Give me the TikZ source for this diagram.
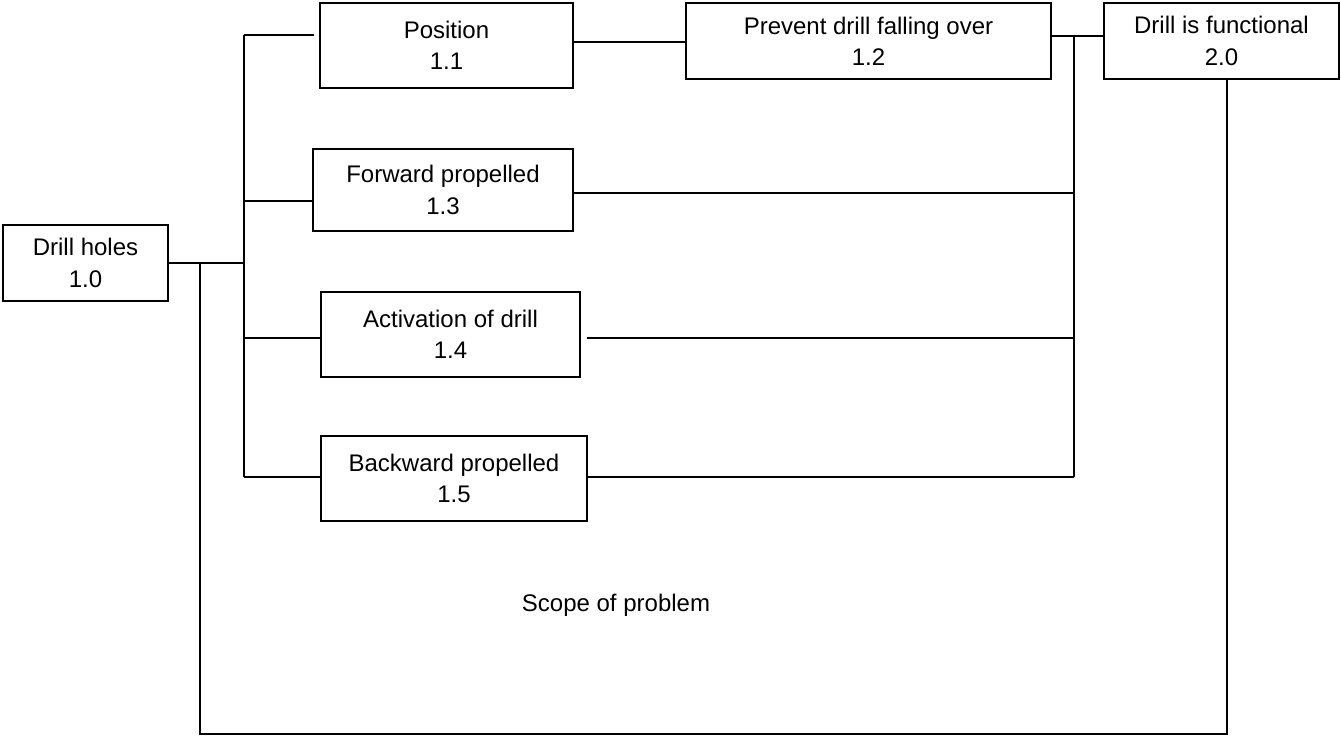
\documentclass[tikz,border=0pt]{standalone}
\usepackage{fontspec}
\setmainfont{Liberation Sans}
\usetikzlibrary{calc,positioning}

\begin{document}
\begin{tikzpicture}[x=0.75pt,y=-0.75pt,
  blockbox/.style={draw, line width=1.3pt, align=center, inner sep=0pt,
    font=\fontsize{18}{23.5}\selectfont},
  link/.style={line width=1.3pt}]
\useasboundingbox (0,0) rectangle (1341,736);

% boxes
\node[blockbox, minimum width=123.75pt, minimum height=57pt] (drill) at (85.5,263) {Drill holes\\1.0};
\node[blockbox, minimum width=189.75pt, minimum height=63.75pt] (pos) at (446.5,45.5) {Position\\1.1};
\node[blockbox, minimum width=273.75pt, minimum height=57pt] (prev) at (868.5,41) {Prevent drill falling over\\1.2};
\node[blockbox, minimum width=176.25pt, minimum height=57pt] (func) at (1221.5,41) {Drill is functional\\2.0};
\node[blockbox, minimum width=195pt, minimum height=61.5pt] (fwd) at (443,190) {Forward propelled\\1.3};
\node[blockbox, minimum width=194.25pt, minimum height=63.75pt] (act) at (450.5,334.5) {Activation of drill\\1.4};
\node[blockbox, minimum width=199.5pt, minimum height=63.75pt] (back) at (454,478.5) {Backward propelled\\1.5};

\node[font=\fontsize{18}{23.5}\selectfont] (scope) at (616,605) {Scope of problem};

% left tree
\coordinate (lTop) at (244,35);
\coordinate (lMid) at (244,263);
\coordinate (lFwd) at (244,201);
\coordinate (lAct) at (244,338);
\coordinate (lBot) at (244,477);
\draw[link] (drill.east) -- (lMid);
\draw[link] (lTop) -- (lBot);
\draw[link, shorten >=3.5pt] (lTop) -- (pos.west |- lTop);
\draw[link] (lFwd) -- (fwd.west |- lFwd);
\draw[link] (lAct) -- (act.west |- lAct);
\draw[link] (lBot) -- (back.west |- lBot);

% right tree
\coordinate (rTop) at (1074,36);
\coordinate (rFwd) at (1074,193);
\coordinate (rAct) at (1074,338);
\coordinate (rBot) at (1074,477);
\draw[link] (pos.east |- 0,42) -- (prev.west |- 0,42);
\draw[link] (prev.east |- rTop) -- (func.west |- rTop);
\draw[link] (rTop) -- (rBot);
\draw[link] (fwd.east |- rFwd) -- (rFwd);
\draw[link, shorten <=4.5pt] (act.east |- rAct) -- (rAct);
\draw[link] (back.east |- rBot) -- (rBot);

% scope of problem
\coordinate (sA) at (200,263);
\coordinate (sB) at (200,734);
\coordinate (sC) at (1227,734);
\draw[link] (sA) -- (sB) -- (sC) -- (sC |- func.south);
\end{tikzpicture}
\end{document}
